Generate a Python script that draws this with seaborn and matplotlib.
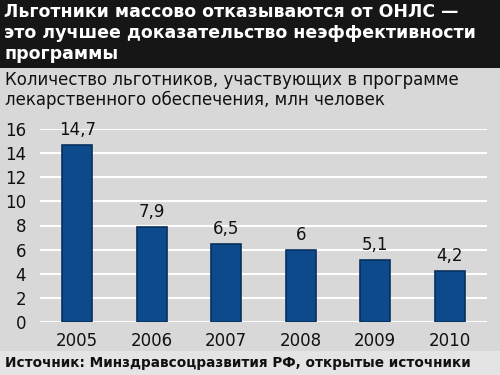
import matplotlib.pyplot as plt
import pandas as pd
import seaborn as sns

# Данные
years = ['2005', '2006', '2007', '2008', '2009', '2010']
values = [14.7, 7.9, 6.5, 6, 5.1, 4.2]
value_labels = ['14,7', '7,9', '6,5', '6', '5,1', '4,2']
y_ticks = [0, 2, 4, 6, 8, 10, 12, 14, 16]

title = 'Льготники массово отказываются от ОНЛС —\nэто лучшее доказательство неэффективности\nпрограммы'
subtitle = 'Количество льготников, участвующих в программе\nлекарственного обеспечения, млн человек'
source = 'Источник: Минздравсоцразвития РФ, открытые источники'

df = pd.DataFrame({'year': years, 'value': values})

sns.set_style('white')
plt.rcParams['font.family'] = ['DejaVu Sans']

bg = '#d8d8d8'
fig = plt.figure(figsize=(5, 3.75), dpi=100)
fig.patch.set_facecolor(bg)

# Заголовок на тёмной плашке
fig.patches.append(plt.Rectangle((0, 1 - 68 / 375), 1, 68 / 375, transform=fig.transFigure,
                                 facecolor='#161616', edgecolor='none', zorder=0))
fig.text(0.008, 1 - 3 / 375, title, color='white', fontsize=12.5, fontweight='bold',
         va='top', ha='left', linespacing=1.2)
fig.text(0.01, 1 - 71 / 375, subtitle, color='#111111', fontsize=12,
         va='top', ha='left', linespacing=1.15)

# Полоса с источником
fig.patches.append(plt.Rectangle((0, 0), 1, 24 / 375, transform=fig.transFigure,
                                 facecolor='#e4e4e4', edgecolor='none', zorder=0))
fig.text(0.01, 12 / 375, source, color='#111111', fontsize=9.8, fontweight='bold',
         va='center', ha='left')

ax = fig.add_axes([0.08, 1 - 322 / 375, 0.894, 193 / 375])
ax.set_facecolor(bg)
sns.barplot(data=df, x='year', y='value', color='#0c4a8c', width=0.4,
            edgecolor='#082f5e', linewidth=1.2, saturation=1, ax=ax, zorder=3)

ax.set_ylim(0, 16)
ax.set_yticks(y_ticks)
ax.grid(axis='y', color='white', linewidth=1.5, zorder=0)
for s in ax.spines.values():
    s.set_visible(False)
ax.set_xlabel('')
ax.set_ylabel('')
ax.tick_params(axis='both', length=0, labelsize=12, colors='#111111')
ax.tick_params(axis='y', pad=10)
ax.tick_params(axis='x', pad=7)

for i, v in enumerate(values):
    ax.text(i, v + 0.5, value_labels[i], ha='center', va='bottom', fontsize=12, color='#111111')

fig.savefig('out.png', dpi=100, facecolor=fig.get_facecolor())
